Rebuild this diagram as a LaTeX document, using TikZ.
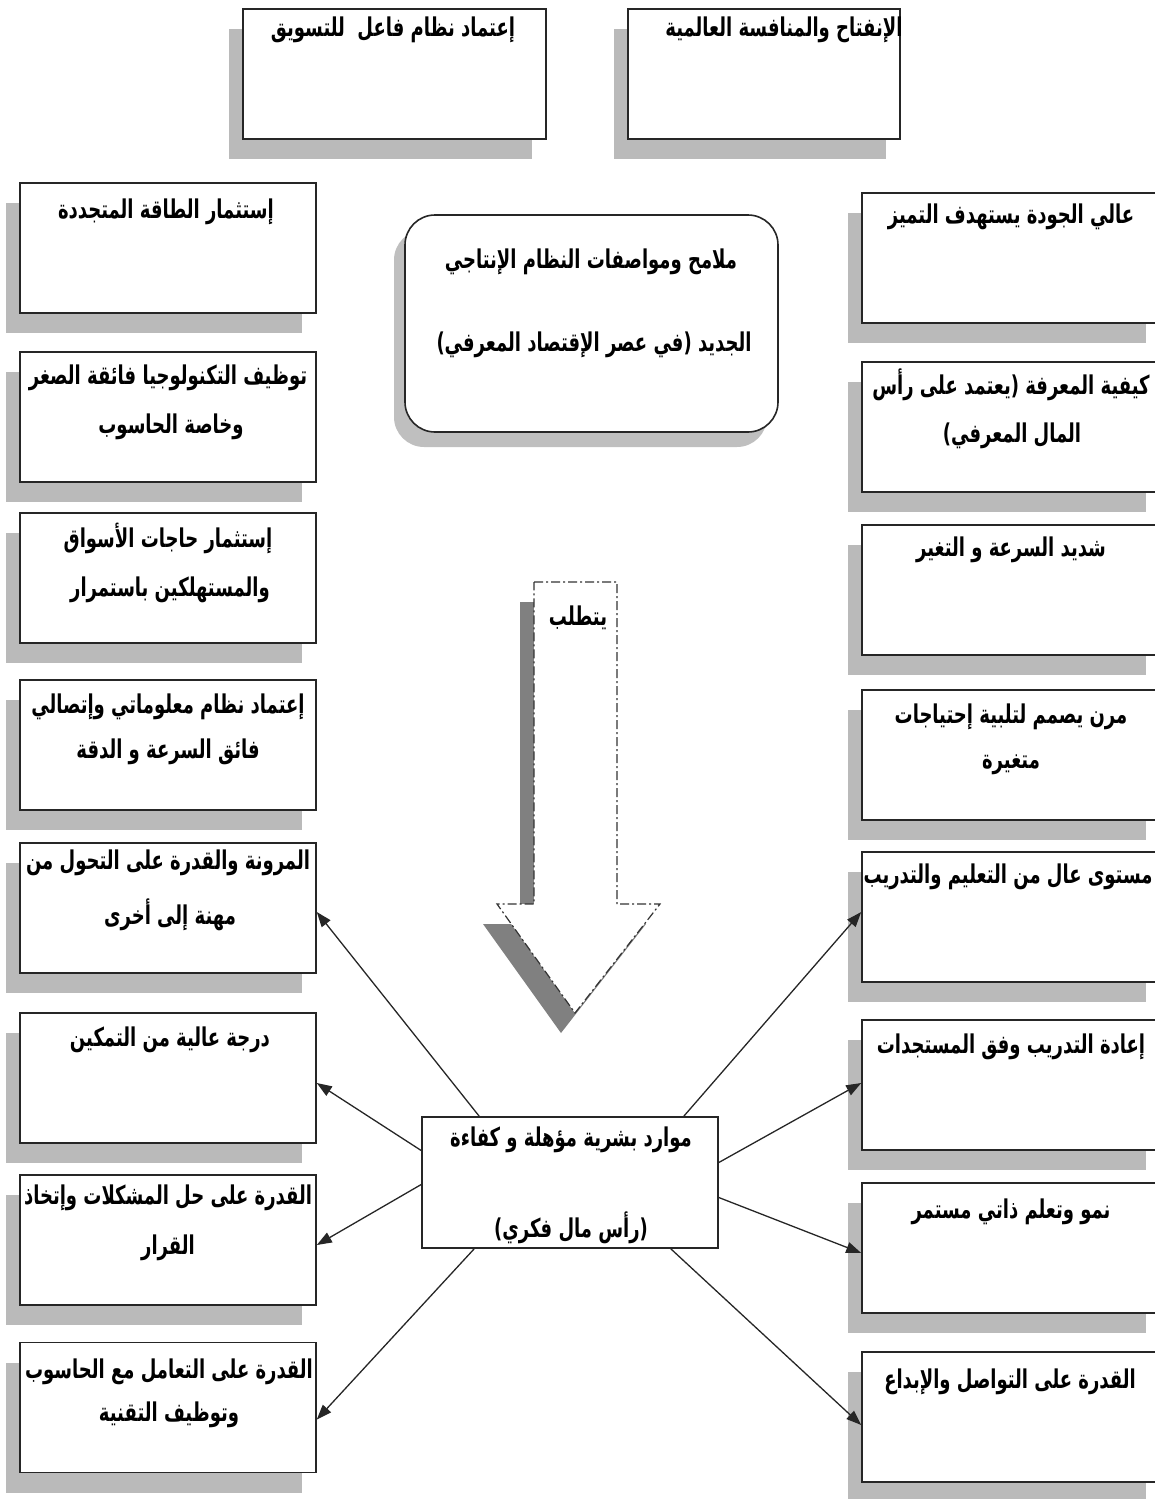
\documentclass[tikz,border=0pt]{standalone}
\usepackage{graphicx}
\usepackage{fontspec}
\newfontfamily\arabicfont[Script=Arabic]{DejaVu Sans}
\TeXXeTstate=1
\usetikzlibrary{arrows.meta,shadows,calc}
\newcommand{\ar}[1]{\scalebox{0.8}[1.15]{\arabicfont\bfseries\beginR #1\endR}}

\tikzset{
  card/.style={draw=black!85, line width=1.6pt, fill=white, inner sep=0pt,
    minimum width=296pt, minimum height=130pt,
    drop shadow={shadow xshift=-14pt, shadow yshift=-20pt, fill=black!27, opacity=1}},
  plaincard/.style={draw=black!85, line width=1.6pt, fill=white, inner sep=0pt,
    minimum width=296pt, minimum height=131pt},
  lbl/.style={inner sep=0pt, font=\fontsize{22.5}{26}\selectfont},
  link/.style={line width=1.3pt, draw=black!85, -{Triangle[length=15pt,width=11pt]}},
}

\begin{document}
\begin{tikzpicture}[x=1pt,y=-1pt]
\useasboundingbox (0,0) rectangle (1155,1499);

% top pair
\node[card, minimum width=303pt] (TL) at (394.5,74) {};
\node[card, minimum width=272pt] (TR) at (764,74) {};
\node[lbl] (tTL) at (393,30) {\ar{إعتماد نظام فاعل\ \ للتسويق}};
\node[lbl] (tTR) at (784,30) {\ar{الإنفتاح والمنافسة العالمية}};

% title box
\node[draw=black!85, line width=1.6pt, fill=white, inner sep=0pt, rounded corners=30pt,
      minimum width=373pt, minimum height=217pt,
      drop shadow={shadow xshift=-11pt, shadow yshift=-15pt, fill=black!25, opacity=1}]
      (H) at (591.5,323.5) {};
\node[lbl] (tHa) at (591,262) {\ar{ملامح ومواصفات النظام الإنتاجي}};
\node[lbl] (tHb) at (594,345) {\ar{الجديد (في عصر الإقتصاد المعرفي)}};

% left column
\node[card] (L1) at (168,248) {};
\node[card] (L2) at (168,417) {};
\node[card] (L3) at (168,578) {};
\node[card] (L4) at (168,745) {};
\node[card] (L5) at (168,908) {};
\node[card] (L6) at (168,1078) {};
\node[card] (L7) at (168,1240) {};
\node[card] (L8) at (168,1407.5) {};

\node[lbl] (tL1)  at (166,212)  {\ar{إستثمار الطاقة المتجددة}};
\node[lbl] (tL2a) at (168,378)  {\ar{توظيف التكنولوجيا فائقة الصغر}};
\node[lbl] (tL2b) at (171,427)  {\ar{وخاصة الحاسوب}};
\node[lbl] (tL3a) at (168,538)  {\ar{إستثمار حاجات الأسواق}};
\node[lbl] (tL3b) at (170,590)  {\ar{والمستهلكين باستمرار}};
\node[lbl] (tL4a) at (168,707)  {\ar{إعتماد نظام معلوماتي وإتصالي}};
\node[lbl] (tL4b) at (168,752)  {\ar{فائق السرعة و الدقة}};
\node[lbl] (tL5a) at (168,863)  {\ar{المرونة والقدرة على التحول من}};
\node[lbl] (tL5b) at (170,915)  {\ar{مهنة إلى أخرى}};
\node[lbl] (tL6)  at (170,1040) {\ar{درجة عالية من التمكين}};
\node[lbl] (tL7a) at (168,1198) {\ar{القدرة على حل المشكلات وإتخاذ}};
\node[lbl] (tL7b) at (168,1248) {\ar{القرار}};
\node[lbl] (tL8a) at (169,1372) {\ar{القدرة على التعامل مع الحاسوب}};
\node[lbl] (tL8b) at (169,1415) {\ar{وتوظيف التقنية}};

% right column
\node[card, minimum width=298pt] (R1) at (1011,258) {};
\node[card, minimum width=298pt] (R2) at (1011,427) {};
\node[card, minimum width=298pt] (R3) at (1011,590) {};
\node[card, minimum width=298pt] (R4) at (1011,755) {};
\node[card, minimum width=298pt] (R5) at (1011,917) {};
\node[card, minimum width=298pt] (R6) at (1011,1085) {};
\node[card, minimum width=298pt] (R7) at (1011,1248) {};
\node[card, minimum width=298pt] (R8) at (1011,1417) {};

\node[lbl] (tR1)  at (1011,217)  {\ar{عالي الجودة يستهدف التميز}};
\node[lbl] (tR2a) at (1011,385)  {\ar{كيفية المعرفة (يعتمد على رأس}};
\node[lbl] (tR2b) at (1012,436)  {\ar{المال المعرفي)}};
\node[lbl] (tR3)  at (1011,550)  {\ar{شديد السرعة و التغير}};
\node[lbl] (tR4a) at (1011,717)  {\ar{مرن يصمم لتلبية إحتياجات}};
\node[lbl] (tR4b) at (1011,765)  {\ar{متغيرة}};
\node[lbl] (tR5)  at (1008,877)  {\ar{مستوى عال من التعليم والتدريب}};
\node[lbl] (tR6)  at (1011,1047) {\ar{إعادة التدريب وفق المستجدات}};
\node[lbl] (tR7)  at (1011,1212) {\ar{نمو وتعلم ذاتي مستمر}};
\node[lbl] (tR8)  at (1010,1382) {\ar{القدرة على التواصل والإبداع}};

% the wide downward arrow: offset shadow, then a white body with a dash-dot outline
\fill[black!50, xshift=-14pt, yshift=-20pt]
  (534,582) -- (617,582) -- (617,904) -- (660,904) -- (575,1013) -- (497,904) -- (534,904) -- cycle;
\draw[fill=white, draw=black!80, line width=1.2pt, dash pattern=on 9pt off 3pt on 2pt off 3pt]
  (534,582) -- (617,582) -- (617,904) -- (660,904) -- (575,1013) -- (497,904) -- (534,904) -- cycle;
\node[lbl] (tReq) at (578,618) {\ar{يتطلب}};

% human capital box
\node[plaincard] (C) at (570,1182.5) {};
\node[lbl] (tCa) at (571,1140) {\ar{موارد بشرية مؤهلة و كفاءة}};
\node[lbl] (tCb) at (571,1228) {\ar{(رأس مال فكري)}};

% connectors
\draw[link] ($(C.north west)+(58,0)$) -- ($(L5.east)+(0,4)$);
\draw[link] ($(C.west)+(0,-32)$) -- ($(L6.east)+(0,5)$);
\draw[link] ($(C.west)+(0,2)$) -- ($(L7.east)+(0,5)$);
\draw[link] ($(C.south west)+(53,0)$) -- ($(L8.east)+(0,12)$);
\draw[link] ($(C.north east)+(-35,0)$) -- ($(R5.west)+(0,-5)$);
\draw[link] ($(C.east)+(0,-20)$) -- ($(R6.west)+(0,-2)$);
\draw[link] ($(C.east)+(0,15)$) -- ($(R7.west)+(0,5)$);
\draw[link] ($(C.south east)+(-48,0)$) -- ($(R8.west)+(0,8)$);
\end{tikzpicture}
\end{document}
